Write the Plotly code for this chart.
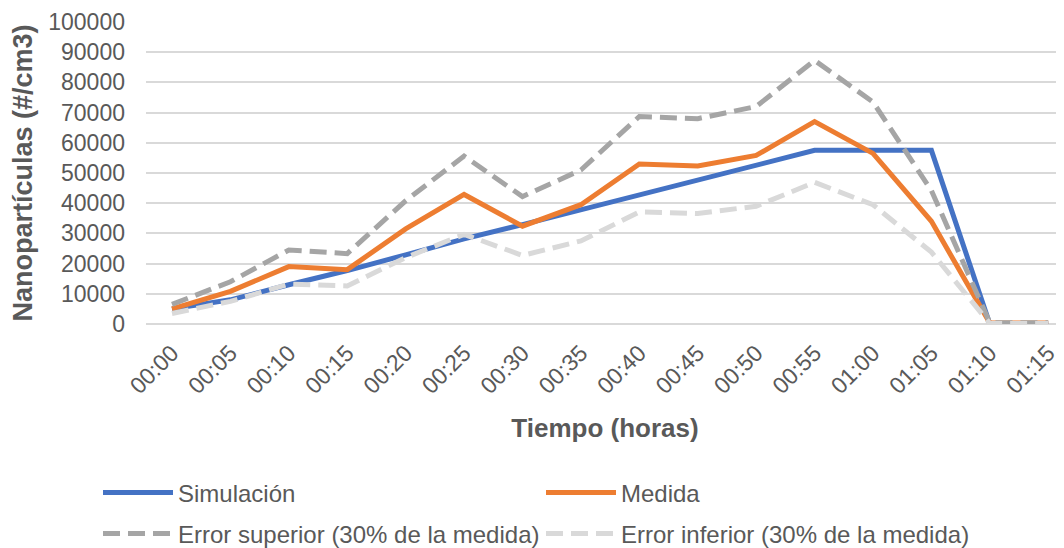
import plotly.graph_objects as go

tiempo = ["00:00", "00:05", "00:10", "00:15", "00:20", "00:25", "00:30", "00:35",
          "00:40", "00:45", "00:50", "00:55", "01:00", "01:05", "01:10", "01:15"]
simulacion = [5000, 8000, 13000, 17700, 22900, 28200, 32900, 37900,
              42900, 47800, 52800, 57500, 57500, 57500, 0, 0]
medida = [5000, 10800, 19000, 18000, 31500, 42900, 32400, 39500,
          53000, 52300, 55800, 67000, 56500, 34000, 300, 300]
error_sup = [6500, 14000, 24500, 23300, 40800, 55600, 42200, 51000,
             68700, 68000, 72000, 87300, 73500, 44200, 400, 400]
error_inf = [3500, 7500, 13200, 12600, 22000, 29700, 22700, 27500,
             37100, 36600, 39000, 46900, 39500, 23800, 200, 200]

FONT = "Liberation Sans, Arial, sans-serif"
GREY_TXT = "#595959"
DASH = "17px,8px"
LW = 5

# page body has an 8px margin; figure is sized/positioned to compensate
W, H, OFF = 1056, 540, 8

fig = go.Figure()
fig.add_trace(go.Scatter(x=tiempo, y=simulacion, name="Simulación", mode="lines",
                         line=dict(color="#4472C4", width=LW), legend="legend"))
fig.add_trace(go.Scatter(x=tiempo, y=medida, name="Medida", mode="lines",
                         line=dict(color="#ED7D31", width=LW), legend="legend"))
fig.add_trace(go.Scatter(x=tiempo, y=error_sup, name="Error superior (30% de la medida)",
                         mode="lines", line=dict(color="#A5A5A5", width=LW, dash=DASH),
                         legend="legend2"))
fig.add_trace(go.Scatter(x=tiempo, y=error_inf, name="Error inferior (30% de la medida)",
                         mode="lines", line=dict(color="#D9D9D9", width=LW, dash=DASH),
                         legend="legend2"))

leg_common = dict(orientation="h", xref="container", yref="container",
                  x=(98 - OFF) / W, xanchor="left", yanchor="middle",
                  entrywidth=358, entrywidthmode="pixels", itemwidth=70,
                  font=dict(family=FONT, size=24, color=GREY_TXT),
                  bgcolor="rgba(0,0,0,0)")

fig.update_layout(
    width=W, height=H,
    margin=dict(l=146 - OFF, r=0, t=22 - OFF, b=H - (324 - OFF)),
    paper_bgcolor="white", plot_bgcolor="white",
    font=dict(family=FONT, color=GREY_TXT, size=20),
    showlegend=True,
    legend=dict(leg_common, y=(H - (493 - OFF)) / H),
    legend2=dict(leg_common, y=(H - (534 - OFF)) / H),
    xaxis=dict(type="category", range=[-0.445, 15.27], tickangle=-45,
               automargin=False, showgrid=False, showline=False, ticks="",
               ticklabelshift=0, ticklabelstandoff=10,
               tickfont=dict(family=FONT, size=23, color=GREY_TXT),
               title=dict(text="<b>Tiempo (horas)</b>", standoff=20,
                          font=dict(family=FONT, size=26, color=GREY_TXT))),
    yaxis=dict(range=[0, 100000], dtick=10000, showgrid=True, gridcolor="#D9D9D9",
               gridwidth=1.5, zeroline=True, zerolinecolor="#D9D9D9", zerolinewidth=1.5,
               tickformat="d", ticks="", ticklabelstandoff=20, automargin=False,
               tickfont=dict(family=FONT, size=23, color=GREY_TXT),
               title=dict(text="<b>Nanopartículas (#/cm3)</b>", standoff=10,
                          font=dict(family=FONT, size=27, color=GREY_TXT))),
)

fig.write_html("out.html")
